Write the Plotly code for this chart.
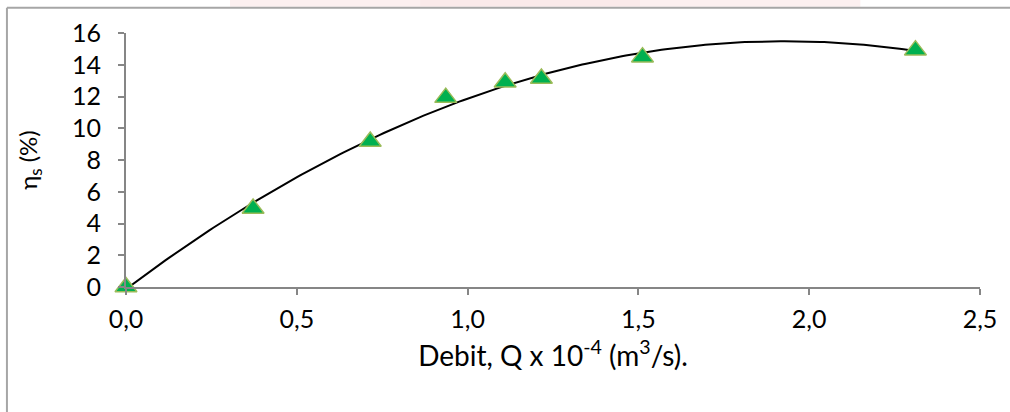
import numpy as np
import plotly.graph_objects as go

# Measured debit (x 10^-4 m3/s) and efficiency (%)
debit = [0.0, 0.372, 0.715, 0.936, 1.11, 1.216, 1.512, 2.311]
efficiency = [0.0, 4.95, 9.17, 11.93, 12.9, 13.13, 14.48, 14.92]

x_ticks = [0.0, 0.5, 1.0, 1.5, 2.0, 2.5]
x_tick_text = ["0,0", "0,5", "1,0", "1,5", "2,0", "2,5"]
y_ticks = [0, 2, 4, 6, 8, 10, 12, 14, 16]

# Second-order polynomial trendline through the measurements
coef = np.polyfit(debit, efficiency, 2)
trend_x = np.linspace(min(debit), max(debit), 200)
trend_y = np.polyval(coef, trend_x)

W, H = 1010, 412
L, R, T, B = 126, 30.4, 33.3, 125
plot_w = W - L - R
plot_h = H - T - B

FONT = "Lato"
AXIS_GREY = "#868686"

fig = go.Figure()
fig.add_trace(go.Scatter(
    x=trend_x, y=trend_y, mode="lines",
    line=dict(color="#000000", width=2),
    hoverinfo="skip", showlegend=False, cliponaxis=False,
))
fig.add_trace(go.Scatter(
    x=debit, y=efficiency, mode="markers",
    marker=dict(symbol="triangle-up", size=19, color="#00B050",
                line=dict(color="#9BBB59", width=1.5)),
    showlegend=False, cliponaxis=False,
))


def px_to_paper_x(px):
    return (px - L) / plot_w


def px_to_paper_y(py):
    return (H - B - py) / plot_h


# Faint pink haze along the top edge of the page
for x0, x1, op in [(230, 420, 0.25), (420, 640, 0.35), (640, 860, 0.25)]:
    fig.add_shape(type="rect", xref="paper", yref="paper", layer="below",
                  x0=px_to_paper_x(x0), x1=px_to_paper_x(x1),
                  y0=px_to_paper_y(7), y1=px_to_paper_y(0),
                  fillcolor="#F2C4C4", opacity=op, line=dict(width=0))

# Outer chart border (left and top edges visible)
fig.add_shape(type="line", xref="paper", yref="paper",
              x0=px_to_paper_x(7), x1=px_to_paper_x(W + 5),
              y0=px_to_paper_y(8), y1=px_to_paper_y(8),
              line=dict(color="#A6A6A6", width=2))
fig.add_shape(type="line", xref="paper", yref="paper",
              x0=px_to_paper_x(7), x1=px_to_paper_x(7),
              y0=px_to_paper_y(8), y1=px_to_paper_y(H + 5),
              line=dict(color="#A6A6A6", width=2))

fig.update_layout(
    width=W, height=H,
    margin=dict(l=L, r=R, t=T, b=B),
    paper_bgcolor="white", plot_bgcolor="white",
    font=dict(family=FONT, size=25, color="#000000"),
    xaxis=dict(
        range=[0, 2.5], tickvals=x_ticks, ticktext=x_tick_text,
        showgrid=False, zeroline=False,
        showline=True, linecolor=AXIS_GREY, linewidth=2,
        ticks="outside", ticklen=6, tickcolor=AXIS_GREY, tickwidth=2,
        ticklabelstandoff=3,
        tickfont=dict(family=FONT, size=25, color="#000000"),
        title=dict(text="Debit, Q x 10<sup>-4</sup> (m<sup>3</sup>/s).",
                   font=dict(family=FONT, size=28, color="#000000"),
                   standoff=14),
    ),
    yaxis=dict(
        range=[0, 16], tickvals=y_ticks,
        showgrid=False, zeroline=False,
        showline=True, linecolor=AXIS_GREY, linewidth=2,
        ticks="outside", ticklen=6, tickcolor=AXIS_GREY, tickwidth=2,
        ticklabelstandoff=12,
        tickfont=dict(family=FONT, size=25, color="#000000"),
        title=dict(text="η<sub>s</sub> (%)",
                   font=dict(family=FONT, size=24, color="#000000"),
                   standoff=28),
    ),
)

fig.write_html("out.html")
